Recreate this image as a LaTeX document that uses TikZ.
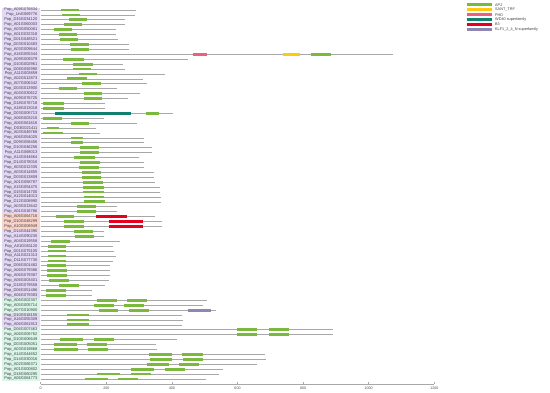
\documentclass[tikz,border=0pt]{standalone}
\usepackage{fontspec}
\setmainfont{Liberation Sans}
\definecolor{ap}{HTML}{7AB93C}
\definecolor{sant}{HTML}{FFC90E}
\definecolor{phd}{HTML}{EE5F7A}
\definecolor{wd}{HTML}{12806F}
\definecolor{bthree}{HTML}{E6001E}
\definecolor{klf}{HTML}{8C88B2}
\definecolor{lav}{HTML}{E4D8F7}
\definecolor{sal}{HTML}{F9D3C8}
\definecolor{mint}{HTML}{D8F5E7}
\definecolor{gl}{HTML}{A8A8A8}
\begin{document}
\begin{tikzpicture}[x=1pt,y=-1pt,
  geneline/.style={draw=gl,line width=0.75pt},
  dom/.style={line width=2.8pt},
  lbl/.style={font=\fontsize{4}{4}\selectfont,inner sep=0pt,anchor=east,text=black!75},
  axislbl/.style={font=\fontsize{3.6}{4}\selectfont,inner sep=0pt,text=black!70},
  leglbl/.style={font=\fontsize{3.8}{4}\selectfont,inner sep=0pt,anchor=west,text=black!75}]
\useasboundingbox (0,0) rectangle (550,393);
% label backgrounds
\fill[lav]  (2,7.54)   rectangle (39.5,214.18);
\fill[sal]  (2,214.18) rectangle (39.5,228.94);
\fill[lav]  (2,228.94) rectangle (39.5,297.82);
\fill[mint] (2,297.82) rectangle (39.5,312.58);
\fill[lav]  (2,312.58) rectangle (39.5,327.34);
\fill[mint] (2,327.34) rectangle (39.5,381.46);
% genes
\foreach \i/\n/\e/\doms in {
 1/Pop\_A09G076834/136/{ap/60.7/79},
 2/Pop\_UnG069776/135.3/{ap/62/80.3},
 3/Pop\_D15G034120/125/{ap/69/87.3},
 4/Pop\_A01G060003/125/{ap/63.7/82},
 5/Pop\_A03G050081/116.3/{ap/54.3/72},
 6/Pop\_A01G032318/116.3/{ap/59.3/77.3},
 7/Pop\_D01G048521/118.3/{ap/60/78.3},
 8/Pop\_D03G010483/129.3/{ap/70.3/89},
 9/Pop\_A03G009644/129.3/{ap/70.7/89.3},
 10/Pop\_A16G055344/393/{phd/192.7/206.7,sant/283.3/300.3,ap/311/330.7},
 11/Pop\_A09G009379/188.3/{ap/63.3/84.3},
 12/Pop\_D10G002961/122.7/{ap/73.3/92.7},
 13/Pop\_D08G092990/125/{ap/73.3/91},
 14/Pop\_A11G003859/164.7/{ap/79/97.3},
 15/Pop\_A02G012873/142.7/{ap/67.3/86.7},
 16/Pop\_A07G006342/146.7/{ap/82/100.7},
 17/Pop\_D03G013900/117.3/{ap/59/77.3},
 18/Pop\_A04G030612/140/{ap/84/102.3},
 19/Pop\_A09G076725/127.7/{ap/84/102.3},
 20/Pop\_D18G078718/105/{ap/43.3/63.7},
 21/Pop\_A18G013018/105/{ap/43.3/63.7},
 22/Pop\_D03G005713/173.3/{wd/55/130.7,ap/145.7/159},
 23/Pop\_A06G003216/103.7/{ap/43.3/62},
 24/Pop\_A06G061616/137/{ap/70.7/89},
 25/Pop\_D03G021411/96/{ap/46.7/59},
 26/Pop\_A03G049768/100/{ap/43.3/63},
 27/Pop\_A06G054025/144.3/{ap/71.3/83},
 28/Pop\_D09G058456/144.3/{ap/71.3/83},
 29/Pop\_D10G046256/151.7/{ap/79.7/99},
 30/Pop\_A11G068013/151.7/{ap/79.7/99},
 31/Pop\_A14G044664/138.7/{ap/74/94.7},
 32/Pop\_D14G078016/144/{ap/80/100},
 33/Pop\_A03G012335/144.3/{ap/78.7/98.7},
 34/Pop\_A03G014855/153.7/{ap/82.3/100.7},
 35/Pop\_D03G013809/153.7/{ap/82.3/100.7},
 36/Pop\_A01G058787/155/{ap/83.3/103.3},
 37/Pop\_A15G054475/160/{ap/83.3/104.3},
 38/Pop\_D15G014700/160/{ap/83.3/104.3},
 39/Pop\_A12G014013/160.7/{ap/83.7/104.3},
 40/Pop\_D12G008990/161.3/{ap/83.7/104.7},
 41/Pop\_A03G013642/117.3/{ap/77/95.7},
 42/Pop\_A01G016786/117.3/{ap/77.3/95.7},
 43/Pop\_A06G064716/155/{ap/56/74.3,bthree/96/126.7},
 44/Pop\_D10G048299/162/{ap/64.3/84,bthree/108.7/143},
 45/Pop\_A10G008949/162/{ap/64.3/84,bthree/108.7/143},
 46/Pop\_D14G044390/104.3/{ap/74/93},
 47/Pop\_A14G090230/104.3/{ap/75/94.3},
 48/Pop\_A04G019558/120/{ap/51/70.3},
 49/Pop\_A01G081120/113.3/{ap/48/66.3},
 50/Pop\_D01G075105/114.3/{ap/48/66.3},
 51/Pop\_A11G021313/115.7/{ap/48/66.3},
 52/Pop\_D11G077730/113.3/{ap/48/66.3},
 53/Pop\_D06G001482/110/{ap/47/66.3},
 54/Pop\_A06G079386/110/{ap/47/66.7},
 55/Pop\_A06G079387/109.7/{ap/47/66.7},
 56/Pop\_A06G003401/108.7/{ap/49.3/68.7},
 57/Pop\_D18G079558/105/{ap/59/78.7},
 58/Pop\_D06G051486/91.7/{ap/46/65.7},
 59/Pop\_A06G079383/91.7/{ap/46/65.7},
 60/Pop\_A06G002307/206.7/{ap/97/117,ap/127/146.7},
 61/Pop\_A05G005714/203.3/{ap/94.3/114,ap/124.3/144.3},
 62/Pop\_A07G010900/216/{ap/98.7/118.3,ap/128.7/148.7,klf/188/210.7},
 63/Pop\_D10G018155/182.3/{ap/66.7/89},
 64/Pop\_A16G055309/182.7/{ap/66.7/89},
 65/Pop\_A06G061913/182.3/{ap/67/89.3},
 66/Pop\_D06G007463/333.3/{ap/236.7/257.3,ap/269/289},
 67/Pop\_A06G006762/333.3/{ap/236.7/257.3,ap/269/289},
 68/Pop\_D10G006649/177.3/{ap/60/83.3,ap/93.7/113.7},
 69/Pop\_D03G005051/156/{ap/54.3/77,ap/87/107},
 70/Pop\_A03G019868/156.7/{ap/54.3/78.3,ap/88/108.3},
 71/Pop\_A14G044652/265/{ap/149.3/171.7,ap/182.3/202.7},
 72/Pop\_D14G030016/265.7/{ap/149.7/172.3,ap/183/203},
 73/Pop\_A02G066371/256.7/{ap/146.7/169,ap/179/199.3},
 74/Pop\_A01G000802/222.7/{ap/131/153.7,ap/164.7/185},
 75/Pop\_D18G060295/219.3/{ap/97.3/120,ap/130.7/151},
 76/Pop\_A06G064773/206/{ap/85.3/107.7,ap/118/138.3}}{
  \pgfmathsetmacro\yy{10+(\i-1)*4.92}
  \node[lbl] (l\i) at (37.6,\yy) {\n};
  \draw[geneline] (40.7,\yy) coordinate (s\i) -- (\e,\yy) coordinate (e\i);
  \foreach \c/\a/\b in \doms {
    \draw[dom,\c] (\a,\yy) -- (\b,\yy);
  }
}
% axis
\draw[draw=gl,line width=0.7pt] (40.7,384.3) coordinate (ax0) -- (434.3,384.3) coordinate (ax1);
\foreach \t in {0,200,400,600,800,1000,1200}{
  \pgfmathsetmacro\xx{40.7+\t*0.328}
  \draw[draw=gl,line width=0.6pt] (\xx,384.3) -- (\xx,382.3);
  \node[axislbl] (t\t) at (\xx,388.2) {\t};
}
% legend
\foreach \k/\c/\txt in {0/ap/AP2,1/sant/SANT\_TRF,2/phd/PHD,3/wd/WD40 superfamily,4/bthree/B3,5/klf/KLF1\_2\_4\_N superfamily}{
  \pgfmathsetmacro\ly{5+\k*4.85}
  \draw[\c,line width=3pt] (466.7,\ly) coordinate (lg\k) -- (491.7,\ly);
  \node[leglbl] (lt\k) at (495,\ly) {\txt};
}
\end{tikzpicture}
\end{document}
